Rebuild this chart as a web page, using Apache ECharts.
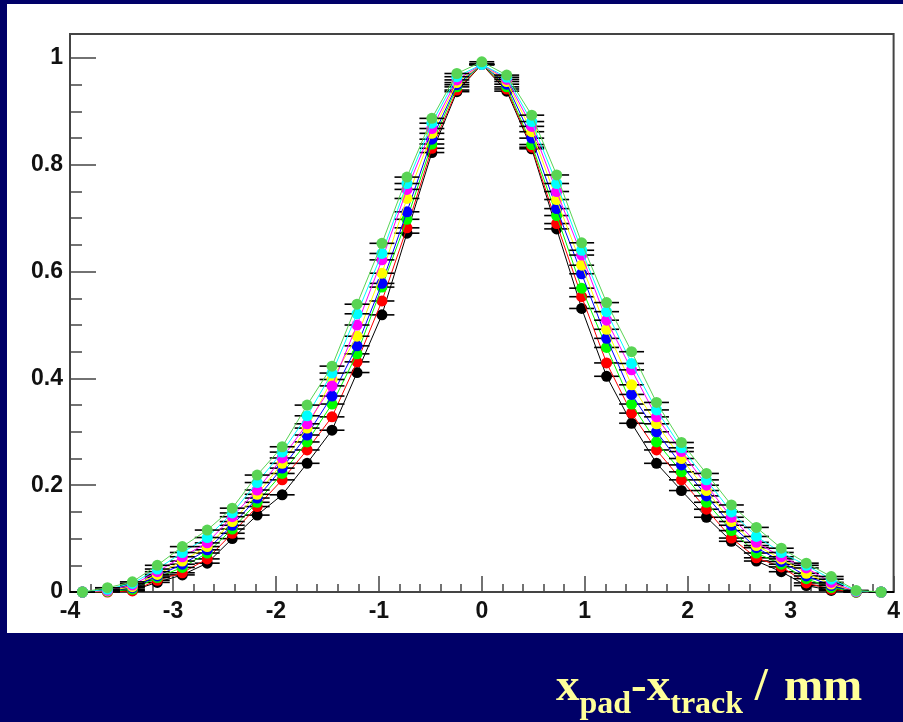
<!DOCTYPE html>
<html>
<head>
<meta charset="utf-8">
<script src="https://cdn.jsdelivr.net/npm/echarts@6/dist/echarts.min.js"></script>
<style>
  html, body { margin: 0; padding: 0; background: #000068; }
  #chart { width: 903px; height: 722px; }
</style>
</head>
<body>
<div id="chart"></div>
<script>
// Bin centres (33 bins across -4 .. 4 mm) and half bin width for the x error bars
const xCenters = [-3.879, -3.636, -3.394, -3.152, -2.909, -2.667, -2.424, -2.182, -1.939, -1.697,
  -1.455, -1.212, -0.970, -0.727, -0.485, -0.242, 0, 0.242, 0.485, 0.727, 0.970, 1.212, 1.455,
  1.697, 1.939, 2.182, 2.424, 2.667, 2.909, 3.152, 3.394, 3.636, 3.879];
const halfBin = 0.121;

// Response profiles, one per setting
const profBlack = [0, 0.001, 0.003, 0.018, 0.032, 0.054, 0.100, 0.144, 0.182, 0.241, 0.303, 0.411,
  0.519, 0.672, 0.823, 0.937, 0.988, 0.938, 0.830, 0.680, 0.531, 0.404, 0.316, 0.241, 0.190,
  0.140, 0.095, 0.058, 0.038, 0.012, 0.003, 0, 0];
const profRed = [0, 0, 0.002, 0.022, 0.036, 0.062, 0.110, 0.160, 0.210, 0.266, 0.328, 0.431,
  0.545, 0.682, 0.831, 0.940, 0.988, 0.942, 0.833, 0.690, 0.553, 0.429, 0.335, 0.266, 0.210,
  0.155, 0.101, 0.064, 0.047, 0.017, 0.005, 0, 0];
const profGreen = [0, 0.001, 0.005, 0.027, 0.046, 0.073, 0.118, 0.168, 0.222, 0.281, 0.352, 0.446,
  0.571, 0.698, 0.839, 0.946, 0.988, 0.946, 0.838, 0.705, 0.569, 0.458, 0.352, 0.281, 0.225,
  0.168, 0.115, 0.073, 0.052, 0.025, 0.008, 0, 0];
const profBlue = [0, 0.002, 0.008, 0.030, 0.052, 0.079, 0.125, 0.176, 0.232, 0.294, 0.367, 0.461,
  0.578, 0.712, 0.848, 0.950, 0.988, 0.951, 0.850, 0.718, 0.596, 0.475, 0.370, 0.300, 0.238,
  0.180, 0.125, 0.083, 0.057, 0.030, 0.012, 0.001, 0];
const profYellow = [0, 0.002, 0.010, 0.033, 0.058, 0.085, 0.132, 0.183, 0.241, 0.307, 0.398, 0.479,
  0.597, 0.737, 0.859, 0.954, 0.988, 0.956, 0.862, 0.735, 0.612, 0.492, 0.388, 0.315, 0.250,
  0.190, 0.132, 0.087, 0.062, 0.035, 0.015, 0.001, 0];
const profMagenta = [0, 0.003, 0.013, 0.038, 0.066, 0.092, 0.141, 0.191, 0.251, 0.315, 0.386, 0.500,
  0.622, 0.754, 0.868, 0.959, 0.988, 0.960, 0.872, 0.750, 0.631, 0.509, 0.416, 0.328, 0.263,
  0.200, 0.140, 0.093, 0.066, 0.045, 0.018, 0.001, 0];
const profCyan = [0, 0.005, 0.016, 0.043, 0.074, 0.102, 0.148, 0.205, 0.262, 0.330, 0.410, 0.521,
  0.634, 0.765, 0.878, 0.965, 0.988, 0.964, 0.881, 0.765, 0.640, 0.525, 0.428, 0.341, 0.270,
  0.210, 0.150, 0.104, 0.074, 0.050, 0.024, 0.002, 0];
const profLight = [0, 0.008, 0.019, 0.050, 0.085, 0.116, 0.157, 0.219, 0.272, 0.350, 0.423, 0.539,
  0.653, 0.777, 0.887, 0.971, 0.993, 0.968, 0.893, 0.781, 0.654, 0.542, 0.450, 0.355, 0.280,
  0.222, 0.163, 0.121, 0.082, 0.054, 0.029, 0.003, 0];

// Drawing order: first entry at the bottom, last on top
const profiles = [profBlack, profRed, profGreen, profBlue, profYellow, profMagenta, profCyan, profLight];
const colours = ['#000000', '#ff0000', '#00ff00', '#0000ff', '#ffff00', '#ff00ff', '#00ffff', '#59d454'];

const xTicks = { min: -4, max: 4, interval: 1 };
const yTicks = { min: 0, max: 1.045, interval: 0.2, minorInterval: 0.05 };

const frameColour = '#444';
const labelFont = { fontFamily: 'Liberation Sans', fontWeight: 'bold', fontSize: 23, color: '#111' };

const series = [];
profiles.forEach(function (vals, i) {
  const pts = xCenters.map(function (x, j) { return [x, vals[j]]; });
  // horizontal error bars
  series.push({
    type: 'custom',
    xAxisIndex: 0, yAxisIndex: 0,
    z: 2 + i * 2,
    silent: true,
    clip: false,
    data: pts,
    renderItem: function (params, api) {
      const x = api.value(0), y = api.value(1);
      const a = api.coord([x - halfBin, y]);
      const b = api.coord([x + halfBin, y]);
      return {
        type: 'line',
        shape: { x1: a[0], y1: a[1], x2: b[0], y2: b[1] },
        style: { stroke: '#000', lineWidth: 1.6 }
      };
    }
  });
  series.push({
    type: 'line',
    xAxisIndex: 0, yAxisIndex: 0,
    z: 3 + i * 2,
    data: pts,
    clip: false,
    symbol: 'circle',
    symbolSize: 11,
    showAllSymbol: true,
    silent: true,
    lineStyle: { color: colours[i], width: 1 },
    itemStyle: { color: colours[i], borderWidth: 0 }
  });
});

const titleFont = { fontFamily: 'Liberation Serif', fontWeight: 'bold', fill: '#ffff99', verticalAlign: 'bottom' };

const chart = echarts.init(document.getElementById('chart'), null, { renderer: 'canvas', width: 903, height: 722 });
chart.setOption({
  animation: false,
  backgroundColor: '#000068',
  graphic: [
    {
      type: 'rect', z: -100, silent: true,
      shape: { x: 7, y: 4, width: 896, height: 629 },
      style: { fill: '#ffffff' }
    },
    {
      type: 'text', z: 100, silent: true,
      left: 556, top: 664,
      style: {
        text: '{m|x}{s|pad}{m|-x}{s|track}{m| /}{u|mm}',
        rich: {
          m: Object.assign({ fontSize: 47, padding: [0, 0, 10, 0] }, titleFont),
          u: Object.assign({ fontSize: 47, padding: [0, 0, 10, 16] }, titleFont),
          s: Object.assign({ fontSize: 32 }, titleFont)
        }
      }
    }
  ],
  grid: {
    left: 70, right: 8, top: 34, bottom: 130,
    show: true, borderColor: frameColour, borderWidth: 2, backgroundColor: 'transparent'
  },
  xAxis: {
    type: 'value', min: xTicks.min, max: xTicks.max, interval: xTicks.interval,
    splitLine: { show: false },
    axisLine: { show: true, onZero: false, lineStyle: { color: frameColour, width: 2 } },
    axisTick: { show: true, inside: true, length: 16, lineStyle: { color: frameColour, width: 1.5 } },
    minorTick: { show: true, splitNumber: 5, length: 8, lineStyle: { color: frameColour, width: 1.5 } },
    axisLabel: Object.assign({ margin: 8, formatter: function (v) { return String(v); } }, labelFont)
  },
  yAxis: [
    {
      type: 'value', min: yTicks.min, max: yTicks.max, interval: yTicks.interval,
      splitLine: { show: false },
      axisLine: { show: true, onZero: false, lineStyle: { color: frameColour, width: 2 } },
      axisTick: { show: true, inside: true, length: 26, lineStyle: { color: frameColour, width: 1.5 } },
      axisLabel: Object.assign({
        margin: 7, showMaxLabel: false,
        formatter: function (v) { return v > 1.001 ? '' : String(Math.round(v * 10) / 10); }
      }, labelFont)
    },
    {
      type: 'value', min: yTicks.min, max: yTicks.max, interval: yTicks.minorInterval,
      position: 'left',
      splitLine: { show: false },
      axisLine: { show: false, onZero: false },
      axisTick: { show: true, inside: true, length: 12, lineStyle: { color: frameColour, width: 1.5 } },
      axisLabel: { show: false }
    }
  ],
  series: series
});
</script>
</body>
</html>
